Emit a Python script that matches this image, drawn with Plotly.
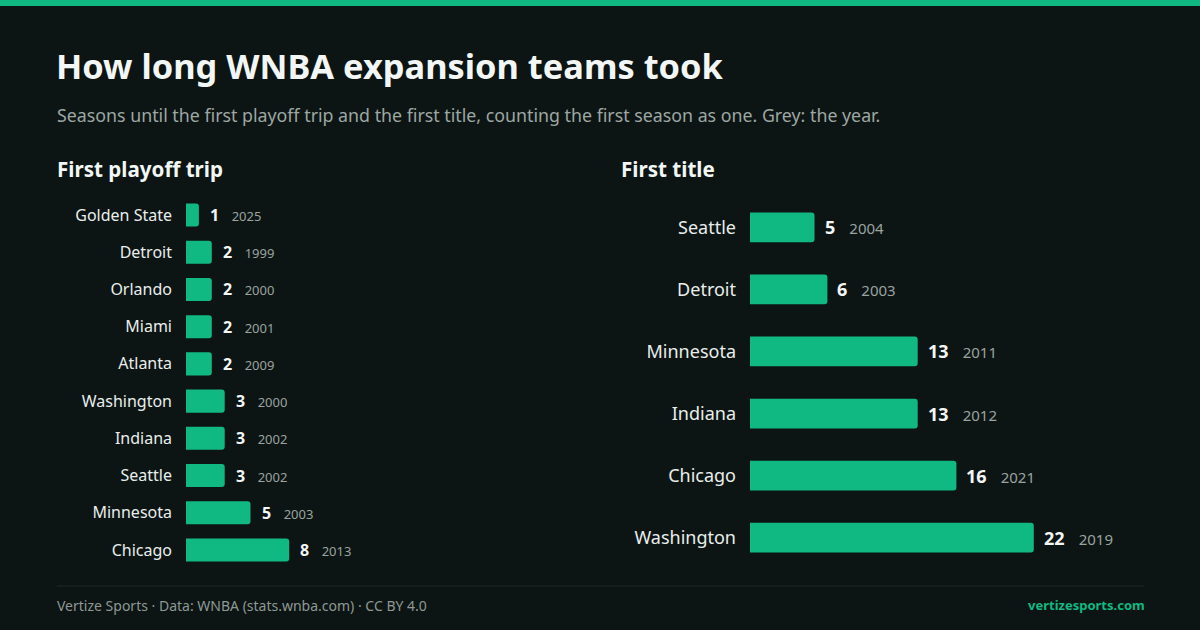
import plotly.graph_objects as go

# ---- data ----
playoff_teams = ["Golden State", "Detroit", "Orlando", "Miami", "Atlanta",
                 "Washington", "Indiana", "Seattle", "Minnesota", "Chicago"]
playoff_seasons = [1, 2, 2, 2, 2, 3, 3, 3, 5, 8]
playoff_years = [2025, 1999, 2000, 2001, 2009, 2000, 2002, 2002, 2003, 2013]

title_teams = ["Seattle", "Detroit", "Minnesota", "Indiana", "Chicago", "Washington"]
title_seasons = [5, 6, 13, 13, 16, 22]
title_years = [2004, 2003, 2011, 2012, 2021, 2019]

BG = "#0c1513"
GREEN = "#10b981"
W, H = 1200, 630
FONT = "Noto Sans"

fig = go.Figure()

fig.add_trace(go.Bar(
    x=playoff_seasons, y=playoff_teams, orientation="h",
    marker=dict(color=GREEN, line=dict(width=0)), width=0.62,
    xaxis="x", yaxis="y", hoverinfo="skip"))
fig.add_trace(go.Bar(
    x=title_seasons, y=title_teams, orientation="h",
    marker=dict(color=GREEN, line=dict(width=0)), width=0.48,
    xaxis="x2", yaxis="y2", hoverinfo="skip"))

PX = 12.9
L_RANGE = 20
R_RANGE = 30
ydom = [(H - 568.6) / H, (H - 196.4) / H]

annotations = []
nb = "\u00a0"
for t, v, yr in zip(playoff_teams, playoff_seasons, playoff_years):
    annotations.append(dict(
        x=v, y=t, xref="x", yref="y", xanchor="left", yanchor="middle",
        xshift=9, showarrow=False,
        text=f"<b>{v}</b>{nb*3}<span style='font-size:13px;color:#9aa3a0'>{yr}</span>",
        font=dict(family=FONT, size=16, color="#f3f6f5")))
for t, v, yr in zip(title_teams, title_seasons, title_years):
    annotations.append(dict(
        x=v, y=t, xref="x2", yref="y2", xanchor="left", yanchor="middle",
        xshift=8, showarrow=False,
        text=f"<b>{v}</b>{nb*3}<span style='font-size:15px;color:#9aa3a0'>{yr}</span>",
        font=dict(family=FONT, size=18, color="#f3f6f5")))

# titles & text
annotations += [
    dict(x=54 / W, y=1 - 66 / H, xref="paper", yref="paper", xanchor="left", yanchor="middle",
         showarrow=False, text="<b>How long WNBA expansion teams took</b>",
         font=dict(family=FONT, size=34.4, color="#f2f6f4")),
    dict(x=55 / W, y=1 - 115 / H, xref="paper", yref="paper", xanchor="left", yanchor="middle",
         showarrow=False,
         text="Seasons until the first playoff trip and the first title, counting the first season as one. Grey: the year.",
         font=dict(family=FONT, size=17.8, color="#9ea7a4")),
    dict(x=55 / W, y=1 - 169 / H, xref="paper", yref="paper", xanchor="left", yanchor="middle",
         showarrow=False, text="<b>First playoff trip</b>",
         font=dict(family=FONT, size=20.6, color="#f2f6f4")),
    dict(x=619 / W, y=1 - 169 / H, xref="paper", yref="paper", xanchor="left", yanchor="middle",
         showarrow=False, text="<b>First title</b>",
         font=dict(family=FONT, size=20.6, color="#f2f6f4")),
    dict(x=55 / W, y=1 - 605 / H, xref="paper", yref="paper", xanchor="left", yanchor="middle",
         showarrow=False, text="Vertize Sports · Data: WNBA (stats.wnba.com) · CC BY 4.0",
         font=dict(family=FONT, size=14, color="#8f9895")),
    dict(x=1147 / W, y=1 - 605 / H, xref="paper", yref="paper", xanchor="right", yanchor="middle",
         showarrow=False, text="<b>vertizesports.com</b>",
         font=dict(family=FONT, size=13, color=GREEN)),
]

shapes = [
    dict(type="rect", xref="paper", yref="paper", x0=0, x1=1, y0=1 - 6 / H, y1=1,
         fillcolor=GREEN, line=dict(width=0), layer="below"),
    dict(type="line", xref="paper", yref="paper", x0=57 / W, x1=1144 / W,
         y0=1 - 586 / H, y1=1 - 586 / H, line=dict(color="#1e2926", width=1)),
]

axis_common = dict(showgrid=False, zeroline=False, showline=False, showticklabels=False,
                   fixedrange=True)

fig.update_layout(
    width=W, height=H, margin=dict(l=0, r=0, t=0, b=0),
    paper_bgcolor=BG, plot_bgcolor=BG, showlegend=False,
    barcornerradius=3,
    xaxis=dict(domain=[186 / W, (186 + PX * L_RANGE) / W], range=[0, L_RANGE], **axis_common),
    xaxis2=dict(domain=[750 / W, (750 + PX * R_RANGE) / W], range=[0, R_RANGE], **axis_common),
    yaxis=dict(domain=ydom, anchor="x", type="category", categoryorder="array",
               categoryarray=playoff_teams, autorange="reversed",
               showgrid=False, zeroline=False, showline=False, ticks="",
               ticklabelstandoff=13, fixedrange=True,
               tickfont=dict(family=FONT, size=16, color="#e9eeec")),
    yaxis2=dict(domain=ydom, anchor="x2", type="category", categoryorder="array",
                categoryarray=title_teams, autorange="reversed",
                showgrid=False, zeroline=False, showline=False, ticks="",
                ticklabelstandoff=13, fixedrange=True,
                tickfont=dict(family=FONT, size=18, color="#e9eeec")),
    annotations=annotations, shapes=shapes,
)

fig.write_html("out.html", config=dict(displayModeBar=False),
               post_script="document.body.style.margin='0';document.body.style.background='" + BG + "';")
